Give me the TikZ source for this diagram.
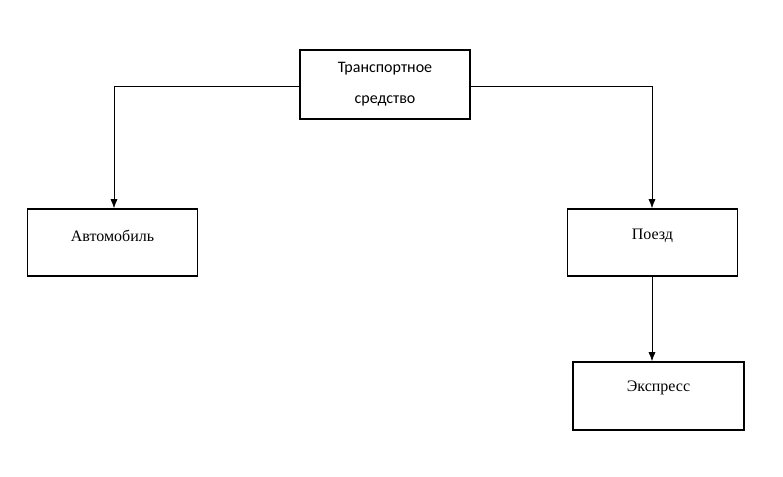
\documentclass[tikz,border=0pt]{standalone}
\usepackage{fontspec}
\setmainfont{Liberation Serif}
\newfontfamily\calib{Carlito}
\usetikzlibrary{arrows.meta}
\begin{document}
\begin{tikzpicture}[x=1pt,y=-1pt,
  boxst/.style={draw,line width=1.6pt,minimum width=170pt,minimum height=67pt,inner sep=0pt},
  lbl/.style={font=\fontsize{16}{20}\selectfont},
  conn/.style={line width=0.7pt,-{Latex[length=9pt,width=7pt]}}]
\useasboundingbox (0,0) rectangle (783,476);
\node[boxst,minimum height=69pt,align=center,font=\calib\fontsize{16}{31}\selectfont] (top) at (385,84.5) {Транспортное\\средство};
\node[boxst] (avto) at (112.5,242.5) {};
\node[lbl] (avtoT) at (112.5,236) {Автомобиль};
\node[boxst] (poezd) at (652.5,242.5) {};
\node[lbl] (poezdT) at (652.5,236) {Поезд};
\node[boxst,minimum width=171pt,minimum height=68pt] (expr) at (658.5,396) {};
\node[lbl] (exprT) at (658.5,388) {Экспресс};
\draw[conn] (top.west |- 0,86) -| (114,0 |- avto.north);
\draw[conn] (top.east |- 0,86) -| (652,0 |- poezd.north);
\draw[conn] (652,0 |- poezd.south) -- (652,0 |- expr.north);
\end{tikzpicture}
\end{document}
